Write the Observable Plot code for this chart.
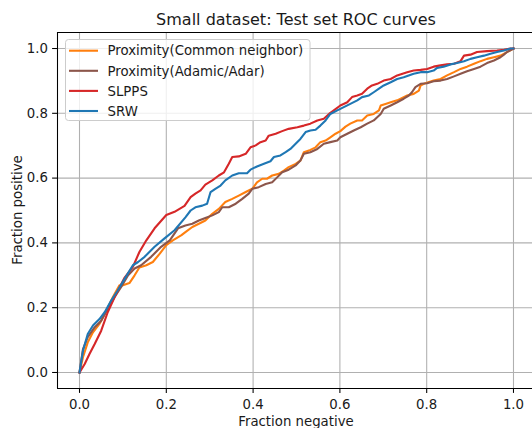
<!DOCTYPE html>
<html><head><meta charset="utf-8">
<script src="https://cdn.jsdelivr.net/npm/d3@7"></script>
<script src="https://cdn.jsdelivr.net/npm/@observablehq/plot@0.6"></script>
<style>html,body{margin:0;padding:0;background:#fff}svg{display:block}</style>
</head><body><div id="chart"></div>
<script>
const titleText = "Small dataset: Test set ROC curves";
const xLabel = "Fraction negative";
const yLabel = "Fraction positive";
const seriesNames = ["Proximity(Common neighbor)", "Proximity(Adamic/Adar)", "SLPPS", "SRW"];
const seriesColors = ["#ff7f0e", "#8c564b", "#d62728", "#1f77b4"];
const xTicks = [0, 0.2, 0.4, 0.6, 0.8, 1.0];
const yTicks = [0, 0.2, 0.4, 0.6, 0.8, 1.0];

const commonNeighbor = [[0,0],[0.008,0.047],[0.019,0.093],[0.031,0.124],[0.046,0.15],[0.062,0.191],[0.077,0.233],[0.092,0.269],[0.1,0.269],[0.115,0.276],[0.127,0.3],[0.138,0.324],[0.154,0.331],[0.169,0.341],[0.185,0.367],[0.2,0.393],[0.215,0.408],[0.235,0.424],[0.244,0.433],[0.26,0.449],[0.275,0.459],[0.29,0.469],[0.306,0.49],[0.321,0.505],[0.336,0.526],[0.352,0.536],[0.367,0.546],[0.383,0.557],[0.398,0.567],[0.409,0.587],[0.421,0.598],[0.432,0.598],[0.444,0.608],[0.459,0.613],[0.471,0.623],[0.482,0.634],[0.498,0.644],[0.509,0.654],[0.517,0.68],[0.532,0.687],[0.544,0.695],[0.555,0.711],[0.567,0.716],[0.578,0.726],[0.59,0.737],[0.601,0.745],[0.613,0.759],[0.624,0.768],[0.64,0.778],[0.651,0.778],[0.663,0.793],[0.678,0.798],[0.69,0.809],[0.694,0.824],[0.705,0.829],[0.717,0.834],[0.732,0.84],[0.747,0.85],[0.755,0.855],[0.77,0.86],[0.782,0.87],[0.786,0.886],[0.797,0.893],[0.816,0.901],[0.832,0.906],[0.847,0.917],[0.863,0.927],[0.878,0.937],[0.893,0.944],[0.909,0.953],[0.924,0.961],[0.939,0.968],[0.955,0.973],[0.97,0.978],[0.985,0.989],[1,1]];

const adamicAdar = [[0,0],[0.008,0.072],[0.019,0.109],[0.035,0.14],[0.05,0.16],[0.065,0.196],[0.081,0.233],[0.096,0.264],[0.112,0.3],[0.127,0.321],[0.142,0.331],[0.165,0.357],[0.188,0.388],[0.208,0.408],[0.227,0.445],[0.244,0.454],[0.26,0.459],[0.275,0.469],[0.29,0.477],[0.306,0.485],[0.321,0.495],[0.329,0.51],[0.344,0.51],[0.36,0.521],[0.375,0.536],[0.39,0.552],[0.398,0.567],[0.413,0.572],[0.429,0.582],[0.444,0.587],[0.456,0.603],[0.467,0.618],[0.482,0.626],[0.498,0.639],[0.509,0.654],[0.517,0.675],[0.532,0.68],[0.548,0.69],[0.563,0.706],[0.578,0.711],[0.594,0.716],[0.601,0.726],[0.617,0.737],[0.632,0.747],[0.648,0.757],[0.663,0.768],[0.678,0.778],[0.694,0.798],[0.701,0.814],[0.717,0.824],[0.732,0.834],[0.747,0.845],[0.759,0.855],[0.766,0.865],[0.774,0.881],[0.786,0.891],[0.801,0.893],[0.816,0.899],[0.832,0.901],[0.847,0.906],[0.863,0.914],[0.878,0.922],[0.893,0.93],[0.909,0.937],[0.924,0.944],[0.939,0.955],[0.955,0.963],[0.97,0.973],[0.978,0.981],[0.985,0.989],[1,1]];

const slpps = [[0,0],[0.012,0.026],[0.023,0.057],[0.035,0.088],[0.05,0.129],[0.065,0.186],[0.081,0.233],[0.104,0.293],[0.123,0.326],[0.138,0.372],[0.154,0.408],[0.173,0.445],[0.2,0.486],[0.219,0.496],[0.242,0.514],[0.256,0.541],[0.267,0.552],[0.279,0.562],[0.29,0.58],[0.306,0.593],[0.321,0.608],[0.333,0.618],[0.344,0.644],[0.352,0.665],[0.367,0.667],[0.383,0.675],[0.394,0.695],[0.406,0.701],[0.417,0.711],[0.429,0.716],[0.436,0.731],[0.452,0.737],[0.467,0.745],[0.482,0.752],[0.502,0.757],[0.517,0.762],[0.532,0.768],[0.548,0.778],[0.563,0.783],[0.575,0.798],[0.586,0.809],[0.601,0.824],[0.617,0.834],[0.628,0.85],[0.64,0.855],[0.651,0.86],[0.663,0.876],[0.674,0.886],[0.686,0.891],[0.701,0.901],[0.717,0.906],[0.732,0.917],[0.755,0.927],[0.77,0.932],[0.786,0.934],[0.801,0.937],[0.816,0.944],[0.832,0.948],[0.847,0.951],[0.863,0.953],[0.878,0.961],[0.886,0.978],[0.901,0.981],[0.916,0.989],[0.939,0.992],[0.962,0.994],[0.978,0.996],[0.993,1],[1,1]];

const srw = [[0,0],[0.008,0.067],[0.019,0.119],[0.031,0.145],[0.046,0.165],[0.058,0.186],[0.073,0.222],[0.088,0.253],[0.104,0.289],[0.123,0.331],[0.135,0.341],[0.15,0.357],[0.173,0.388],[0.196,0.414],[0.219,0.439],[0.244,0.479],[0.256,0.5],[0.267,0.51],[0.283,0.515],[0.294,0.521],[0.302,0.557],[0.313,0.567],[0.325,0.577],[0.336,0.593],[0.352,0.608],[0.367,0.615],[0.386,0.615],[0.394,0.626],[0.409,0.636],[0.425,0.644],[0.44,0.652],[0.448,0.665],[0.463,0.67],[0.475,0.68],[0.486,0.69],[0.498,0.706],[0.509,0.721],[0.521,0.742],[0.532,0.747],[0.544,0.749],[0.555,0.762],[0.567,0.778],[0.578,0.798],[0.594,0.809],[0.609,0.819],[0.624,0.829],[0.64,0.84],[0.651,0.85],[0.667,0.855],[0.678,0.865],[0.69,0.876],[0.701,0.886],[0.717,0.896],[0.732,0.906],[0.747,0.911],[0.77,0.922],[0.786,0.927],[0.801,0.927],[0.816,0.932],[0.824,0.94],[0.839,0.944],[0.855,0.951],[0.87,0.955],[0.886,0.961],[0.901,0.968],[0.916,0.973],[0.932,0.978],[0.947,0.984],[0.962,0.989],[0.978,0.994],[0.993,1],[1,1]];

const seriesData = [commonNeighbor, adamicAdar, slpps, srw];
const rows = seriesData.flatMap((pts, i) => pts.map(([fpr, tpr]) => ({series: seriesNames[i], fpr, tpr})));

const FONT = "DejaVu Sans";
const W = 532, H = 428;
const plot = Plot.plot({
  width: W, height: H,
  marginLeft: 57, marginRight: 0, marginTop: 32, marginBottom: 40,
  style: {fontFamily: FONT, fontSize: "13.3px", color: "#000", background: "#fff", overflow: "visible"},
  x: {domain: [-0.0507, 1.0438], label: null},
  y: {domain: [-0.0494, 1.0494], label: null},
  color: {domain: seriesNames, range: seriesColors},
  marks: [
    Plot.gridX(xTicks, {stroke: "#b0b0b0", strokeOpacity: 1, strokeWidth: 1.07}),
    Plot.gridY(yTicks, {stroke: "#b0b0b0", strokeOpacity: 1, strokeWidth: 1.07}),
    Plot.line(rows, {x: "fpr", y: "tpr", z: "series", stroke: "series", strokeWidth: 2.1, strokeLinejoin: "round", strokeLinecap: "square"}),
    Plot.axisX({ticks: xTicks, tickFormat: d3.format(".1f"), tickSize: 4.9, tickPadding: 6.3, strokeWidth: 1.07, label: null, fill: "#1a1a1a"}),
    Plot.axisY({ticks: yTicks, tickFormat: d3.format(".1f"), tickSize: 4.9, tickPadding: 4.6, strokeWidth: 1.07, label: null, fill: "#1a1a1a"}),
    Plot.ruleX([-0.0507], {stroke: "#000", strokeWidth: 1.07}),
    Plot.ruleY([-0.0494, 1.0494], {stroke: "#000", strokeWidth: 1.07})
  ]
});
document.getElementById("chart").appendChild(plot);

const svg = d3.select(plot);
const sx = plot.scale("x");
const cx = sx.apply(0.5);
svg.append("text").attr("x", cx).attr("y", 24.5).attr("text-anchor", "middle")
  .attr("font-family", FONT).attr("font-size", "16px").attr("fill", "#1a1a1a").text(titleText);
svg.append("text").attr("x", cx).attr("y", 426.3).attr("text-anchor", "middle")
  .attr("font-family", FONT).attr("font-size", "13.3px").attr("fill", "#1a1a1a").text(xLabel);
svg.append("text").attr("transform", "translate(22.3,210) rotate(-90)").attr("text-anchor", "middle")
  .attr("font-family", FONT).attr("font-size", "13.3px").attr("fill", "#1a1a1a").text(yLabel);

// legend
const lg = svg.append("g");
lg.append("rect").attr("x", 65.5).attr("y", 39.5).attr("width", 244.5).attr("height", 81)
  .attr("rx", 3).attr("ry", 3).attr("fill", "#fff").attr("fill-opacity", 0.8)
  .attr("stroke", "#cccccc").attr("stroke-width", 1);
seriesNames.forEach((name, i) => {
  const yy = 50.7 + i * 20.1;
  lg.append("line").attr("x1", 69).attr("x2", 98).attr("y1", yy).attr("y2", yy)
    .attr("stroke", seriesColors[i]).attr("stroke-width", 2.1).attr("stroke-linecap", "butt");
  lg.append("text").attr("x", 107.5).attr("y", yy).attr("dy", "0.36em").attr("text-anchor", "start")
    .attr("font-family", FONT).attr("font-size", "13.3px").attr("fill", "#1a1a1a").text(name);
});
</script>
</body></html>
